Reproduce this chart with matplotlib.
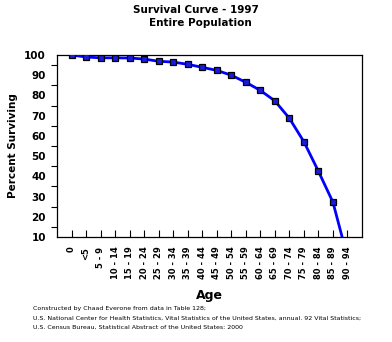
import matplotlib
matplotlib.use("Agg")
import matplotlib.pyplot as plt
from matplotlib.ticker import FixedLocator

age_groups = ["0", "<5", "5 - 9", "10 - 14", "15 - 19", "20 - 24", "25 - 29", "30 - 34",
              "35 - 39", "40 - 44", "45 - 49", "50 - 54", "55 - 59", "60 - 64", "65 - 69",
              "70 - 74", "75 - 79", "80 - 84", "85 - 89", "90 - 94"]
percent_surviving = [100.0, 99.0, 98.6, 98.6, 98.5, 98.0, 96.9, 96.5, 95.4, 93.9, 92.4,
                     90.0, 86.5, 82.5, 77.3, 68.7, 57.1, 42.5, 27.2, 0.0]
y_ticks = [10, 20, 30, 40, 50, 60, 70, 80, 90, 100]
title_lines = ["Survival Curve - 1997", "Entire Population"]
footer_lines = [
    "Constructed by Chaad Everone from data in Table 128;",
    "U.S. National Center for Health Statistics, Vital Statistics of the United States, annual. 92 Vital Statistics;",
    "U.S. Census Bureau, Statistical Abstract of the United States: 2000",
]

W, H = 392, 342
fig = plt.figure(figsize=(W / 100, H / 100), dpi=100)
fig.patch.set_facecolor("white")
ax = fig.add_axes([57 / W, (H - 237) / H, 305 / W, 182 / H])

x = list(range(len(age_groups)))
ax.plot(x, percent_surviving, color="#0000ff", lw=2.0, marker="s", markersize=4.2,
        markerfacecolor="#1a1ae0", markeredgecolor="black", markeredgewidth=0.9,
        clip_on=True, zorder=3)

ax.set_xlim(-1, len(age_groups))
ax.set_ylim(10, 100)
ax.set_xticks(x)
ax.set_xticklabels(age_groups, rotation=90, fontsize=6, fontweight="bold")
ax.tick_params(axis="x", direction="in", length=5, width=0.8, pad=7)
ax.set_yticks(y_ticks)
ax.set_yticklabels([str(v) for v in y_ticks], fontsize=7.5, fontweight="bold")
ax.yaxis.set_minor_locator(FixedLocator([15, 25, 35, 45, 55, 65, 75, 85, 95]))
ax.tick_params(axis="y", which="major", length=0, pad=8)
ax.tick_params(axis="y", which="minor", direction="out", length=4, width=0.8)
for s in ax.spines.values():
    s.set_linewidth(0.9)
    s.set_color("black")

ax.set_ylabel("Percent Surviving", fontsize=7.5, fontweight="bold")
ax.yaxis.set_label_coords((18 - 57) / 305, 0.5)
ax.set_xlabel("Age", fontsize=9, fontweight="bold")
ax.xaxis.set_label_coords(0.5, -(289 - 237) / 182)

fig.text(196 / W, 1 - 10 / H, title_lines[0], ha="center", va="center", fontsize=7.5, fontweight="bold")
fig.text(200 / W, 1 - 23 / H, title_lines[1], ha="center", va="center", fontsize=7.5, fontweight="bold")

for i, line in enumerate(footer_lines):
    fig.text(33 / W, 1 - (308.5 + i * 9.3) / H, line, ha="left", va="center", fontsize=4.5)

fig.savefig("out.png", dpi=100, facecolor="white")
